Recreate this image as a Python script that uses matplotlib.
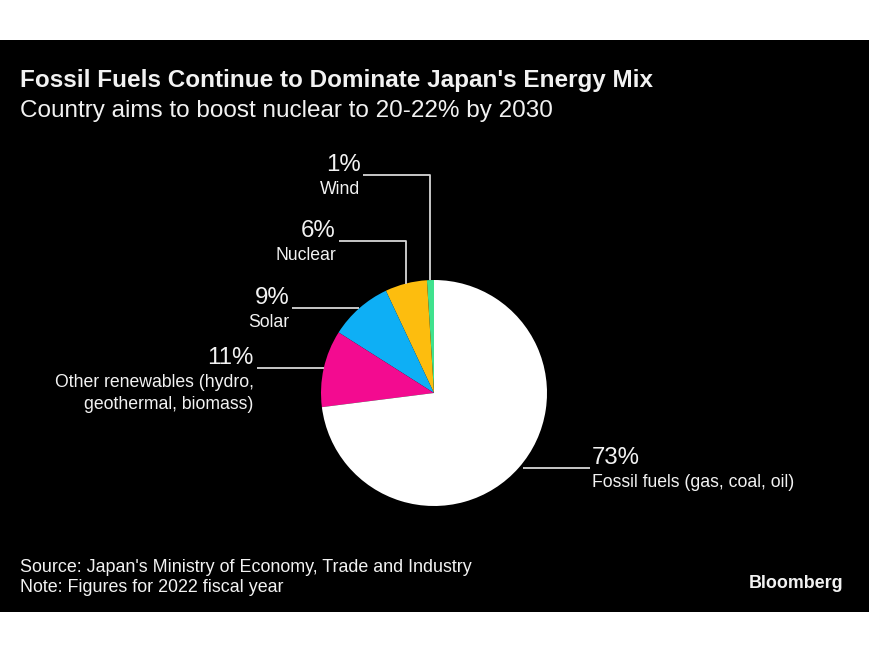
import matplotlib
matplotlib.use("Agg")
import matplotlib.pyplot as plt
import numpy as np

# ---- data ----
categories = ["Wind", "Nuclear", "Solar", "Other renewables (hydro,\ngeothermal, biomass)",
              "Fossil fuels (gas, coal, oil)"]
shares = [1, 6, 9, 11, 73]
pct_labels = ["1%", "6%", "9%", "11%", "73%"]
colors = ["#3fe28e", "#fdbd0e", "#0eaff5", "#f30b90", "#ffffff"]

title = "Fossil Fuels Continue to Dominate Japan's Energy Mix"
subtitle = "Country aims to boost nuclear to 20-22% by 2030"
source = "Source: Japan's Ministry of Economy, Trade and Industry"
note = "Note: Figures for 2022 fiscal year"
brand = "Bloomberg"

W, H = 870, 653
fig = plt.figure(figsize=(W / 100, H / 100), dpi=100, facecolor="white")
plt.rcParams['font.family'] = ['Liberation Sans', 'DejaVu Sans']

ax = fig.add_axes([0, 0, 1, 1])
ax.patch.set_alpha(0)

def Y(y):
    return H - y

# black panel
ax.add_patch(plt.Rectangle((0, Y(612)), W, 612 - 40, color="black", zorder=-10, lw=0))

cx, cy, r = 434, Y(393), 113
wedges, _ = ax.pie(shares, colors=colors, startangle=90, counterclock=True,
                   center=(cx, cy), radius=r, wedgeprops=dict(linewidth=0))
ax.set_xlim(0, W)
ax.set_ylim(0, H)
ax.set_aspect("equal")
ax.axis("off")

renderer = fig.canvas.get_renderer()

def fit_text(x, y, s, target_w, weight="normal", ha="left", va="baseline", color="#f2f2f2"):
    t = ax.text(x, y, s, ha=ha, va=va, color=color, fontsize=12, fontweight=weight)
    w = t.get_window_extent(renderer).width
    t.set_fontsize(12 * target_w / w)
    return t

fit_text(20, Y(87), title, 627, weight="bold")
fit_text(20, Y(117), subtitle, 535)
src = fit_text(20, Y(572), source, 452)
ax.text(20, Y(592), note, ha="left", va="baseline", color="#f2f2f2", fontsize=src.get_fontsize())
fit_text(843, Y(588), brand, 94, weight="bold", ha="right")

# sizes for labels
tmp = ax.text(0, 0, "73%", fontsize=12)
pct_fs = 12 * 48 / tmp.get_window_extent(renderer).width
tmp.remove()
tmp = ax.text(0, 0, "Fossil fuels (gas, coal, oil)", fontsize=12)
lab_fs = 12 * 203 / tmp.get_window_extent(renderer).width
tmp.remove()

line_kw = dict(color="#d6d6d6", lw=1.3, solid_capstyle="butt", zorder=1)
seg = 67
# label levels for wind and nuclear (vertical then horizontal leaders)
vertical_levels = {0: Y(175), 1: Y(241)}

for i, w in enumerate(wedges):
    mid = np.deg2rad((w.theta1 + w.theta2) / 2)
    ax_x = cx + r * np.cos(mid)
    ax_y = cy + r * np.sin(mid)
    if i in vertical_levels:
        ly = vertical_levels[i]
        ax.plot([ax_x, ax_x, ax_x - seg], [ax_y, ly, ly], **line_kw)
        tx, ha = ax_x - seg - 3, "right"
    elif np.cos(mid) < 0:
        ly = ax_y
        ax.plot([ax_x, ax_x - seg], [ly, ly], **line_kw)
        tx, ha = ax_x - seg - 3, "right"
    else:
        ly = ax_y
        ax.plot([ax_x + 4, ax_x + 4 + seg], [ly, ly], **line_kw)
        tx, ha = ax_x + 4 + seg + 2, "left"
    ax.text(tx, ly + 4, pct_labels[i], ha=ha, va="baseline", color="#f2f2f2", fontsize=pct_fs)
    lines = categories[i].split("\n")
    for k, line in enumerate(lines):
        ax.text(tx, ly - 19 - 22 * k, line, ha=ha, va="baseline", color="#f2f2f2",
                fontsize=lab_fs)

fig.savefig("out.png", dpi=100, facecolor="white")
